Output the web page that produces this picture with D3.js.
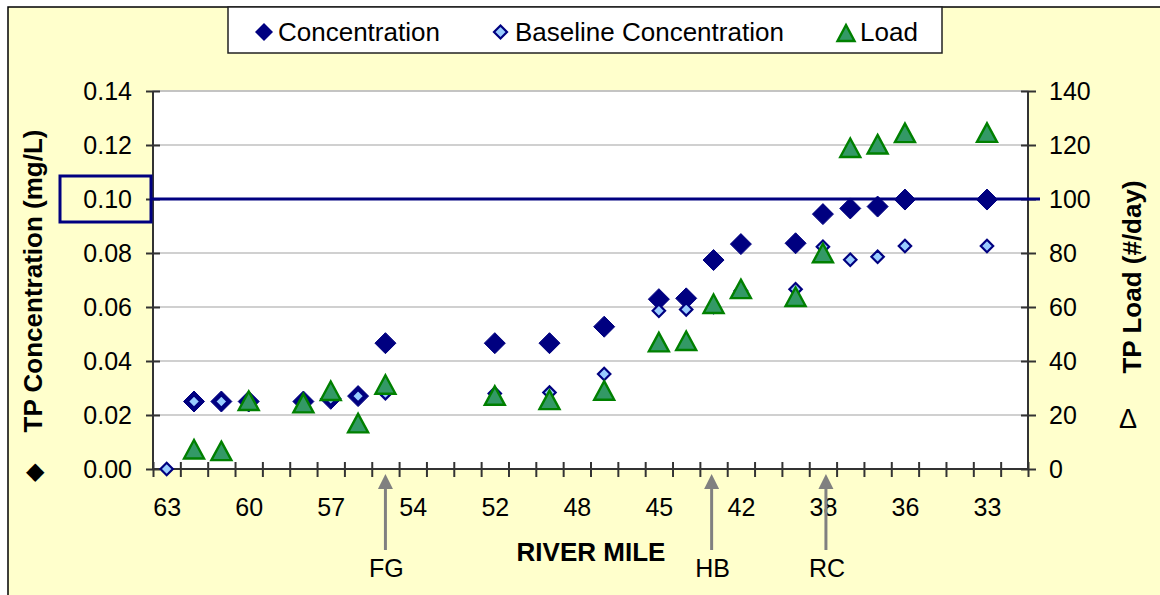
<!DOCTYPE html>
<html><head><meta charset="utf-8">
<script src="https://cdn.jsdelivr.net/npm/d3@7"></script>
<style>
html,body{margin:0;padding:0;background:#fff;}
svg{display:block;font-family:"Liberation Sans",Arial,sans-serif;}
</style></head>
<body><svg id="chart" width="1160" height="595"></svg>
<script>
// ---- data ----
const slotCount = 32; // number of category slots along the river-mile axis
const tickLabels = ["63","60","57","54","52","48","45","42","38","36","33"];
const tickLabelSlots = [0,3,6,9,12,15,18,21,24,27,30];

const concSlots = [1,2,3,5,6,7,8,12,14,16,18,19,20,21,23,24,25,26,27,30];
const concentration = [0.025,0.025,0.025,0.025,0.026,0.027,0.0466,0.0466,0.0466,0.0527,0.0629,0.0632,0.0774,0.0833,0.0836,0.0944,0.0965,0.0972,0.0998,0.0998];

const baseSlots = [0,1,2,3,5,6,7,8,12,14,16,18,19,20,21,23,24,25,26,27,30];
const baseline = [0.0,0.025,0.025,0.025,0.025,0.026,0.027,0.0281,0.028,0.0283,0.0352,0.0586,0.0591,0.060,0.066,0.0666,0.0823,0.0775,0.0786,0.0826,0.0826];

const loadSlots = [1,2,3,5,6,7,8,12,14,16,18,19,20,21,23,24,25,26,27,30];
const load = [7.3,6.7,25.3,24.4,29,17,31.3,27.2,25.6,29.1,47,47.5,61.2,66.7,63.8,80,119,120.3,124.5,124.6];

const leftTicks = [0,0.02,0.04,0.06,0.08,0.10,0.12,0.14];
const rightTicks = [0,20,40,60,80,100,120,140];
const standard = 0.10;
const arrowSlots = [8, 19.93, 24.11];
const arrowLabels = ["FG","HB","RC"];
const seriesNames = ["Concentration","Baseline Concentration","Load"];

// ---- layout ----
const svg = d3.select("#chart");
const L = 153, R = 1028, T = 91, B = 469;
const x = d3.scaleLinear().domain([-0.5, slotCount - 0.5]).range([L, R]);
const yL = d3.scaleLinear().domain([0, 0.14]).range([B, T]);
const yR = d3.scaleLinear().domain([0, 140]).range([B, T]);

const navy = "#000080", lightBlue = "#99CCFF", green = "#008000", greenFill = "#339966";
const axisCol = "#333333";

// background
svg.append("rect").attr("width",1160).attr("height",595).attr("fill","#fff");
svg.append("rect").attr("x",8).attr("y",7).attr("width",1160).attr("height",600)
  .attr("fill","#FFFFCC").attr("stroke","#000").attr("stroke-width",1.5);

// plot area
svg.append("rect").attr("x",L).attr("y",T).attr("width",R-L).attr("height",B-T)
  .attr("fill","#fff").attr("stroke","#C0C0C0").attr("stroke-width",1.5);

// gridlines
svg.append("g").selectAll("line").data(leftTicks.slice(1)).join("line")
  .attr("x1",L).attr("x2",R).attr("y1",d=>yL(d)).attr("y2",d=>yL(d))
  .attr("stroke","#C0C0C0").attr("stroke-width",1.5);

// left axis
const gL = svg.append("g").attr("transform",`translate(${L},0)`)
  .call(d3.axisLeft(yL).tickValues(leftTicks).tickFormat(d3.format(".2f")).tickSize(7).tickPadding(14));
gL.selectAll(".tick line").attr("x2",-7).attr("x1",7);
gL.selectAll("line,path").attr("stroke",axisCol).attr("stroke-width",2);
gL.select("path").attr("d",`M0,${T}V${B}`);
gL.selectAll("text").attr("font-size",25).attr("fill","#000").attr("font-family","Liberation Sans, Arial, sans-serif").attr("dy","0.35em");

// right axis
const gR = svg.append("g").attr("transform",`translate(${R},0)`)
  .call(d3.axisRight(yR).tickValues(rightTicks).tickSize(7).tickPadding(14));
gR.selectAll(".tick line").attr("x1",-7).attr("x2",8);
gR.selectAll("line,path").attr("stroke",axisCol).attr("stroke-width",2);
gR.select("path").attr("d",`M0,${T}V${B}`);
gR.selectAll("text").attr("font-size",25).attr("fill","#000").attr("font-family","Liberation Sans, Arial, sans-serif").attr("dy","0.35em");

// bottom axis (category boundaries)
const bounds = d3.range(slotCount + 1).map(i => i - 0.5);
const gB = svg.append("g").attr("transform",`translate(0,${B})`)
  .call(d3.axisBottom(x).tickValues(bounds).tickSize(8).tickFormat(""));
gB.selectAll(".tick line").attr("y1",-7).attr("y2",8);
gB.selectAll("line,path").attr("stroke",axisCol).attr("stroke-width",2);
gB.select("path").attr("d",`M${L},0H${R}`);

const gBL = svg.append("g").attr("transform",`translate(0,${B})`)
  .call(d3.axisBottom(x).tickValues(tickLabelSlots).tickSize(0).tickPadding(29)
    .tickFormat((d,i)=>tickLabels[i]));
gBL.select("path").remove();
gBL.selectAll("text").attr("font-size",25).attr("fill","#000").attr("font-family","Liberation Sans, Arial, sans-serif");

// standard line + highlighted label
svg.append("line").attr("x1",L-3).attr("x2",R+12).attr("y1",yL(standard)).attr("y2",yL(standard))
  .attr("stroke",navy).attr("stroke-width",3);
svg.append("rect").attr("x",60).attr("y",yL(standard)-23).attr("width",91).attr("height",46)
  .attr("fill","none").attr("stroke",navy).attr("stroke-width",3);

// markers
const diamond = (s) => `M0,${-s}L${s},0L0,${s}L${-s},0Z`;
const tri = (w,h) => `M0,${-h/2}L${w/2},${h/2}L${-w/2},${h/2}Z`;

svg.append("g").selectAll("path").data(concentration).join("path")
  .attr("d",diamond(10.5)).attr("fill",navy).attr("stroke",navy).attr("stroke-width",1)
  .attr("transform",(d,i)=>`translate(${x(concSlots[i])},${yL(d)})`);

svg.append("g").selectAll("path").data(baseline).join("path")
  .attr("d",diamond(6.2)).attr("fill",lightBlue).attr("stroke",navy).attr("stroke-width",2.2)
  .attr("transform",(d,i)=>`translate(${x(baseSlots[i])},${yL(d)})`);

svg.append("g").selectAll("path").data(load).join("path")
  .attr("d",tri(20,18.5)).attr("fill",greenFill).attr("stroke",green).attr("stroke-width",2.4)
  .attr("stroke-linejoin","miter")
  .attr("transform",(d,i)=>`translate(${x(loadSlots[i])},${yR(d)})`);

// arrows
const ag = svg.append("g");
arrowSlots.forEach((s,i)=>{
  const ax = x(s);
  ag.append("line").attr("x1",ax).attr("x2",ax).attr("y1",486).attr("y2",550)
    .attr("stroke","#808080").attr("stroke-width",3);
  ag.append("path").attr("d",`M${ax},474L${ax+7.5},489L${ax-7.5},489Z`).attr("fill","#808080");
  ag.append("text").attr("x",ax+1).attr("y",577).attr("text-anchor","middle")
    .attr("font-size",25).text(arrowLabels[i]);
});

// axis titles
svg.append("text").attr("transform",`translate(42,281) rotate(-90)`).attr("text-anchor","middle")
  .attr("font-size",26).attr("font-weight","bold").text("TP Concentration (mg/L)");
svg.append("text").attr("transform",`translate(1141,277) rotate(-90)`).attr("text-anchor","middle")
  .attr("font-size",26).attr("font-weight","bold").text("TP Load (#/day)");
svg.append("text").attr("x",591).attr("y",561).attr("text-anchor","middle")
  .attr("font-size",26).attr("font-weight","bold").text("RIVER MILE");
svg.append("text").attr("x",35).attr("y",479).attr("text-anchor","middle")
  .attr("font-size",24).text("◆");
svg.append("text").attr("x",1128).attr("y",428).attr("text-anchor","middle")
  .attr("font-size",27).text("Δ");

// legend
const lg = svg.append("g");
lg.append("rect").attr("x",228).attr("y",7).attr("width",714).attr("height",46)
  .attr("fill","#fff").attr("stroke","#222").attr("stroke-width",1.5);
lg.append("path").attr("d",diamond(9)).attr("transform","translate(264,32)").attr("fill",navy);
lg.append("path").attr("d",diamond(6.5)).attr("transform","translate(500.5,32)")
  .attr("fill",lightBlue).attr("stroke",navy).attr("stroke-width",2.2);
lg.append("path").attr("d",tri(17,16)).attr("transform","translate(846,33)")
  .attr("fill",greenFill).attr("stroke",green).attr("stroke-width",2.4);
[[278,0],[515,1],[860,2]].forEach(([tx,i])=>{
  lg.append("text").attr("x",tx).attr("y",41).attr("font-size",26).text(seriesNames[i]);
});
</script></body></html>
